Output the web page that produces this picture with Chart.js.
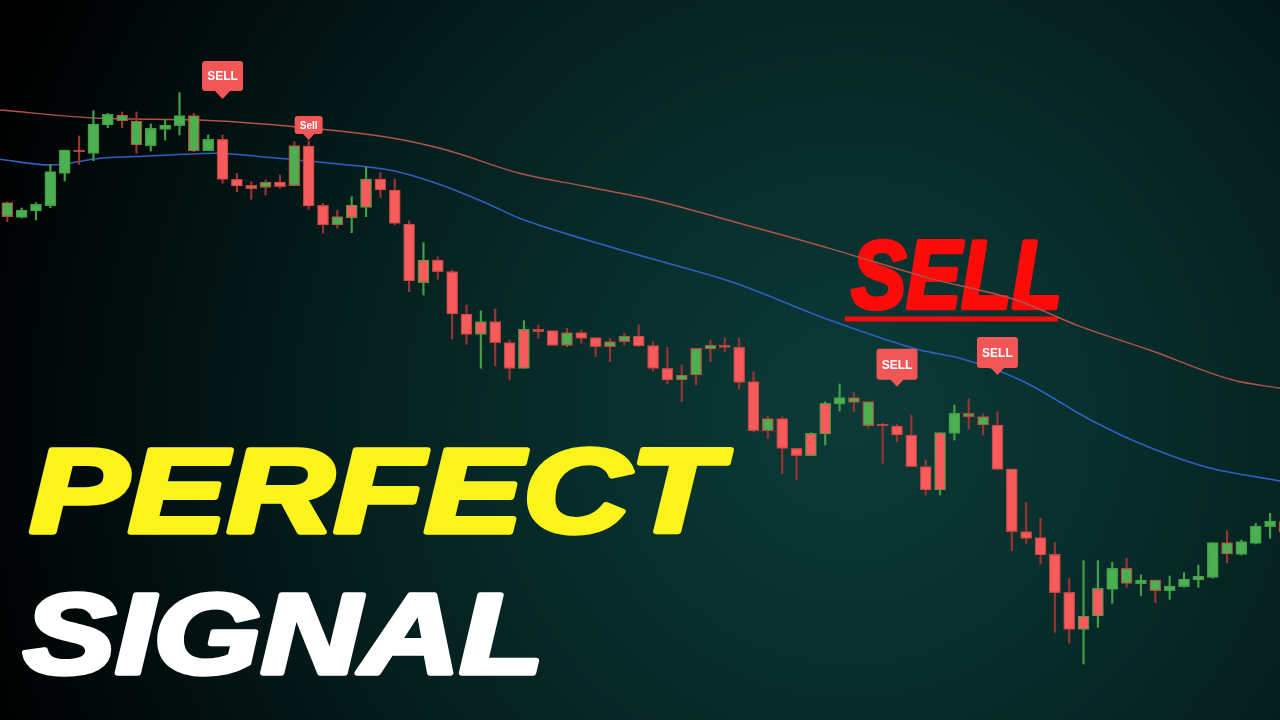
<!DOCTYPE html>
<html><head><meta charset="utf-8">
<script src="https://cdn.jsdelivr.net/npm/chart.js@4.4.1/dist/chart.umd.min.js"></script>
<style>html,body{margin:0;padding:0;background:#000;overflow:hidden}canvas{display:block}</style>
</head><body>
<canvas id="c" width="1280" height="720"></canvas>
<script>
// ---- candle data (price units), one entry per candle ----
const opens = [503.3,502.7,509,514.3,546.7,570,566.7,595,599,575,
574.3,590.7,594.3,569,569.3,580.7,540.7,534.7,532.7,538,
534.3,574,514.7,495,515,541,541,530,496,460,
460,448.3,406,398.3,398.3,377.3,390.7,390.7,389.3,374.7,
387.3,382.3,373.3,378.3,384,374.3,351.7,340,345,371,
375,372.7,338.3,289.3,301.3,271.7,286.7,316.7,316,317.7,
294.3,295.7,294,285,253.3,287.3,286.7,303.3,295,295,
251,188.3,182.3,165.7,127.7,104,131.7,130.7,136.7,136.3,
129.3,129.3,133.3,140,142.7,166,165.7,176.7,193.3,188.3];
const closes = [517.3,510,515.7,548.3,570,568.3,596,605.7,605,599,
591.7,595,604.3,604.3,580.7,540.7,534,531.3,538,533.3,
574.3,514,495,503.3,502.3,512.7,530,496.7,439,437.3,
448.3,406,385.7,385.7,377.3,351.7,351.7,388.3,374.7,387.3,
381.7,373.3,378.3,384,374,351.7,340,345,371.7,375,
372.7,337.7,289.3,301.3,271.7,264.3,264.3,286,322.3,322.3,
318.3,294.3,285,253.3,230,230,306.7,306.7,303.3,250.7,
188.3,181.7,165,127.3,90.7,90.7,104,151.7,151.7,140,
140,134,141,144,177.3,177.3,178.3,194,199,198.3];
const highs = [518,512,517.3,555.7,570,584,609.3,606.7,608,608,
596,600.7,627.3,606.7,585,585,546.7,538.3,540,545,
578.3,579,516.7,510,523.3,553.3,547.3,541,499.3,477.3,
463.3,450,415,409.3,411,380,399.3,395,389.3,391.7,
390,382.3,381.7,386.7,395,378.3,372.7,355,371.7,380,
381.7,381.7,348.3,304,303.3,271.7,287.3,318.3,336,327.3,
318.3,296.7,296,305,260,287.3,315,321,306,308.3,
251,217.3,201.7,177.3,141.7,159.3,159.3,157.7,161.7,145,
140,144,147.3,155,177.3,189.3,180,196.7,206.7,202];
const lows = [498.3,502,500,512.3,539,555.7,559.3,592.3,592.3,566.7,
569,580,585,568.3,569.3,536.7,528.3,520.7,525,531.7,
534.3,510.7,486.7,491.7,487.3,503.3,522.3,495,428.3,425,
440.7,381,375.7,351.7,354,340,351.7,381.7,374.7,373.3,
376.7,363.3,358.3,375,373.3,349,336,318.3,335,358.3,
368.3,331,288.3,281.7,246.7,240,264.3,275,309,308.3,
291.7,256.7,278.3,253.3,225,225,280,290.7,285,250.7,
169.3,176.7,156,87.7,76.7,56,92.7,116.7,132.7,124.3,
117.3,120.7,132.7,132.7,141.7,157.3,165,176,181.7,185];
// secondary trend direction (outline / wick), 1 = up, -1 = down
const trend = [-1,1,1,1,1,-1,1,1,-1,-1,
1,1,1,-1,1,-1,-1,-1,-1,-1,
-1,-1,-1,-1,1,1,-1,-1,-1,1,
-1,-1,-1,1,-1,-1,1,-1,-1,-1,
-1,-1,-1,-1,-1,-1,-1,-1,-1,-1,
-1,-1,-1,-1,-1,-1,1,1,1,-1,
-1,-1,-1,-1,-1,1,1,-1,-1,-1,
-1,-1,-1,-1,-1,1,1,1,-1,1,
-1,1,1,1,1,-1,1,1,1,-1];

// ---- moving averages (candle index, value) ----
const slowMaX = [-0.5,6.5,13.4,20.4,26.8,30.6,35.7,40.4,45.0,50.7,57.3,64.3,70.3,74.8,79.6,85.4,88.7];
const slowMaY = [610,601.7,600,592.7,582,570,546.7,533.3,520,498,471.7,441.7,420,393.3,370,340,331.7];
const fastMaX = [-0.5,3.0,6.5,9.9,14.6,18.1,22.5,26.9,29.9,33.4,35.7,40.4,44.8,50.7,57.3,63.6,66.4,70.6,75.5,78.9,83.6,88.7];
const fastMaY = [560.7,555,561.7,564,566.7,562.7,556.7,549.3,536.7,516.7,501.7,480,461.7,437,400,370,361.7,340,300,276.7,252.7,239];

// ---- sell signals ----
const sellIdx = [15,21,62,69];
const sellLabels = ['SELL','Sell','SELL','SELL'];
const sellTip = [621,580,333.3,345];

// ---- headline texts ----
const headlineTop = 'PERFECT';
const headlineBottom = 'SIGNAL';
const stampText = 'SELL';

const UP = '#4caf50', DOWN = '#f75b5b';
const UP_EDGE = '#3f9c43', DOWN_EDGE = '#c0453f';
const UP_WICK = '#43a047', DOWN_WICK = '#9a3434';

const idx = opens.map((_, i) => i);
const bodyData = idx.map(i => ({x: i, y: [opens[i], closes[i]]}));
const wickData = idx.map(i => ({x: i, y: [lows[i], highs[i]]}));

const bgPlugin = {
  id: 'bg',
  beforeDraw(chart) {
    const {ctx, width, height} = chart;
    ctx.save();
    const g = ctx.createRadialGradient(850, 420, 0, 850, 420, 920);
    g.addColorStop(0, '#0c3a37');
    g.addColorStop(0.25, '#08302d');
    g.addColorStop(0.55, '#041f1e');
    g.addColorStop(0.8, '#020d0d');
    g.addColorStop(1, '#000000');
    ctx.fillStyle = g;
    ctx.fillRect(0, 0, width, height);
    ctx.restore();
  }
};

function fitText(ctx, text, box, color, stroke) {
  ctx.save();
  ctx.font = 'italic bold 100px "Liberation Sans", Arial, sans-serif';
  const m = ctx.measureText(text);
  const bw = m.actualBoundingBoxLeft + m.actualBoundingBoxRight;
  const bh = m.actualBoundingBoxAscent;
  const sx = (box.r - box.l - stroke) / bw;
  const sy = (box.b - box.t - stroke) / bh;
  ctx.translate(box.l + stroke / 2, box.b - stroke / 2);
  ctx.scale(sx, sy);
  ctx.fillStyle = color;
  ctx.strokeStyle = color;
  ctx.lineJoin = 'round';
  ctx.lineWidth = stroke / ((sx + sy) / 2);
  ctx.fillText(text, m.actualBoundingBoxLeft, 0);
  if (stroke) ctx.strokeText(text, m.actualBoundingBoxLeft, 0);
  ctx.restore();
}

const headlinePlugin = {
  id: 'headline',
  beforeDatasetsDraw(chart) {
    const ctx = chart.ctx;
    fitText(ctx, headlineTop, {l: 28, r: 735, t: 446, b: 535}, '#fbf41c', 6);
    fitText(ctx, headlineBottom, {l: 22, r: 540, t: 591, b: 676}, '#ffffff', 6);
    fitText(ctx, stampText, {l: 850, r: 1060, t: 238, b: 310}, '#ff0a0a', 4);
    ctx.save();
    ctx.fillStyle = '#ff0a0a';
    ctx.fillRect(845, 316.5, 213, 5);
    ctx.restore();
  }
};

const markerPlugin = {
  id: 'sellMarkers',
  afterDatasetsDraw(chart, args, opts) {
    const {ctx, scales: {x, y}} = chart;
    sellIdx.forEach((ix, k) => {
      const st = opts.styles[k];
      const px = x.getPixelForValue(ix), py = y.getPixelForValue(sellTip[k]);
      const bottom = py - st.gap, top = bottom - st.h;
      ctx.save();
      ctx.fillStyle = opts.color;
      ctx.beginPath();
      ctx.roundRect(px - st.w / 2, top, st.w, st.h, 3);
      ctx.fill();
      ctx.beginPath();
      ctx.moveTo(px - st.gap, bottom - 0.5);
      ctx.lineTo(px + st.gap, bottom - 0.5);
      ctx.lineTo(px, py);
      ctx.closePath();
      ctx.fill();
      ctx.fillStyle = '#ffffff';
      ctx.font = st.font;
      ctx.textAlign = 'center';
      ctx.textBaseline = 'middle';
      ctx.fillText(sellLabels[k], px, top + st.h / 2 + 1);
      ctx.restore();
    });
  }
};

new Chart(document.getElementById('c'), {
  type: 'bar',
  data: {
    datasets: [
      {
        type: 'line', label: 'MA slow', order: 5,
        data: slowMaX.map((v, i) => ({x: v, y: slowMaY[i]})),
        borderColor: '#b0544c', borderWidth: 1.4, pointRadius: 0,
        cubicInterpolationMode: 'monotone', fill: false
      },
      {
        type: 'line', label: 'MA fast', order: 4,
        data: fastMaX.map((v, i) => ({x: v, y: fastMaY[i]})),
        borderColor: '#2e5fc2', borderWidth: 1.6, pointRadius: 0,
        cubicInterpolationMode: 'monotone', fill: false
      },
      {
        label: 'wick', order: 2, grouped: false,
        data: wickData, barThickness: 1.5,
        backgroundColor: idx.map(i => trend[i] > 0 ? UP_WICK : DOWN_WICK),
        borderWidth: 0
      },
      {
        label: 'body', order: 1, grouped: false,
        data: bodyData, barThickness: 11,
        backgroundColor: idx.map(i => closes[i] >= opens[i] ? UP : DOWN),
        borderColor: idx.map(i => trend[i] > 0 ? UP_EDGE : DOWN_EDGE),
        borderWidth: 1.2, borderSkipped: false
      }
    ]
  },
  options: {
    responsive: false,
    devicePixelRatio: 1,
    animation: false,
    layout: {padding: 0},
    plugins: {
      legend: {display: false},
      tooltip: {enabled: false},
      sellMarkers: {
        color: '#f25757',
        styles: [
          {w: 41, h: 30, gap: 8, font: 'bold 12px "Liberation Sans Narrow", "Liberation Sans", sans-serif'},
          {w: 28, h: 18, gap: 6, font: 'bold 10px "Liberation Sans Narrow", "Liberation Sans", sans-serif'},
          {w: 41, h: 31, gap: 7, font: 'bold 12px "Liberation Sans Narrow", "Liberation Sans", sans-serif'},
          {w: 41, h: 31, gap: 7, font: 'bold 12px "Liberation Sans Narrow", "Liberation Sans", sans-serif'}
        ]
      }
    },
    scales: {
      x: {type: 'linear', min: -0.509, max: 88.69, display: false, offset: false},
      y: {min: 0, max: 720, display: false}
    }
  },
  plugins: [bgPlugin, headlinePlugin, markerPlugin]
});
</script>
</body></html>
